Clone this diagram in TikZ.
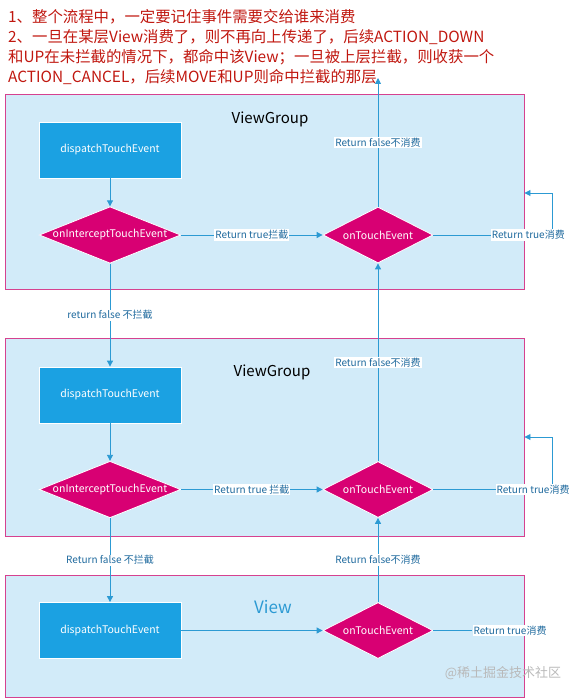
\documentclass[tikz,border=0pt]{standalone}
\usepackage{fontspec}
\setmainfont{Noto Sans CJK SC}
\usetikzlibrary{arrows.meta,shapes.geometric}

\definecolor{layerfill}{HTML}{D2EBF9}
\definecolor{layerline}{HTML}{D6418F}
\definecolor{boxblue}{HTML}{1BA1E2}
\definecolor{diamred}{HTML}{D80073}
\definecolor{flowline}{HTML}{2C9AD3}
\definecolor{lbltext}{HTML}{1F6A9E}
\definecolor{notered}{HTML}{C0170F}

\tikzset{
  layerbox/.style={draw=layerline, fill=layerfill, line width=0.9pt, minimum width=519pt, inner sep=0pt},
  dispbox/.style={rectangle, fill=boxblue, draw=white, line width=0.8pt, text=white,
    minimum width=142pt, minimum height=56pt, font=\fontsize{10.5}{12}\selectfont},
  decide/.style={diamond, fill=diamred, draw=white, line width=0.8pt, text=white,
    inner sep=0pt, aspect=2.5, minimum height=56pt, font=\fontsize{10.5}{12}\selectfont},
  flowarrow/.style={draw=flowline, line width=0.9pt, -{Triangle[length=6pt,width=6pt]}},
  flowline/.style={draw=flowline, line width=0.9pt},
  lbl/.style={fill=white, text=lbltext, inner sep=1pt, font=\fontsize{10}{12}\selectfont},
  grouptitle/.style={font=\fontsize{15}{18}\selectfont},
}

\begin{document}
\begin{tikzpicture}[x=1pt,y=-1pt]
\useasboundingbox (0,0) rectangle (576,698);

% notes on top
\node[anchor=north west, align=left, inner sep=0pt, text=notered,
  font=\fontsize{15.4}{20}\selectfont] (note) at (8,9.5)
  {1、整个流程中，一定要记住事件需要交给谁来消费\\
   2、一旦在某层View消费了，则不再向上传递了，后续ACTION\_DOWN\\
   和UP在未拦截的情况下，都命中该View；一旦被上层拦截，则收获一个\\
   ACTION\_CANCEL，后续MOVE和UP则命中拦截的那层};

% first ViewGroup
\node[layerbox, minimum height=195pt] (layer1) at (264.5,191.5) {};
\node[grouptitle] (title1) at (270,119) {ViewGroup};
\node[dispbox] (disp1) at (110,150) {dispatchTouchEvent};
\node[decide, minimum width=139pt] (icpt1) at (110,235) {onInterceptTouchEvent};
\node[decide, minimum width=110pt] (touch1) at (378,235) {onTouchEvent};
\coordinate (up1) at (378,78);
\coordinate (loop1a) at (552,235);
\coordinate (loop1b) at (552,193);

% second ViewGroup
\node[layerbox, minimum height=198pt] (layer2) at (264.5,437) {};
\node[grouptitle] (title2) at (272,372) {ViewGroup};
\node[dispbox] (disp2) at (110,395) {dispatchTouchEvent};
\node[decide, minimum width=139pt] (icpt2) at (110,489.5) {onInterceptTouchEvent};
\node[decide, minimum width=110pt] (touch2) at (378,489.5) {onTouchEvent};
\coordinate (loop2a) at (552,489.5);
\coordinate (loop2b) at (552,437);

% View
\node[layerbox, minimum height=122pt] (layer3) at (264.5,636) {};
\node[grouptitle, text=flowline, font=\fontsize{17}{20}\selectfont] (title3) at (273,607) {View};
\node[dispbox] (disp3) at (110,630.5) {dispatchTouchEvent};
\node[decide, minimum width=110pt] (touch3) at (378,630.5) {onTouchEvent};
\node[lbl] (ret3) at (510,630.5) {Return true消费};

% connectors
\draw[flowarrow] (disp1) -- (icpt1);
\draw[flowarrow] (icpt1) -- node[lbl]{Return true拦截} (touch1);
\draw[flowarrow] (touch1) -- node[lbl]{Return false不消费} (up1);
\draw[flowarrow] (touch1.east) -- node[lbl, pos=0.8]{Return true消费} (loop1a) -- (loop1b) -- (layer1.east |- loop1b);
\draw[flowarrow] (icpt1) -- node[lbl]{return false 不拦截} (disp2);

\draw[flowarrow] (disp2) -- (icpt2);
\draw[flowarrow] (icpt2) -- node[lbl]{Return true 拦截} (touch2);
\draw[flowarrow] (touch2) -- node[lbl]{Return false不消费} (touch1);
\draw[flowarrow] (touch2.east) -- node[lbl, pos=0.84]{Return true消费} (loop2a) -- (loop2b) -- (layer2.east |- loop2b);
\draw[flowarrow] (icpt2) -- node[lbl]{Return false 不拦截} (disp3);

\draw[flowarrow] (disp3) -- (touch3);
\draw[flowarrow] (touch3) -- node[lbl]{Return false不消费} (touch2);
\draw[flowline] (touch3.east) -- (ret3);

% watermark
\node[text=gray!55, font=\fontsize{13}{15}\selectfont] (mark) at (503,673) {@稀土掘金技术社区};
\end{tikzpicture}
\end{document}
